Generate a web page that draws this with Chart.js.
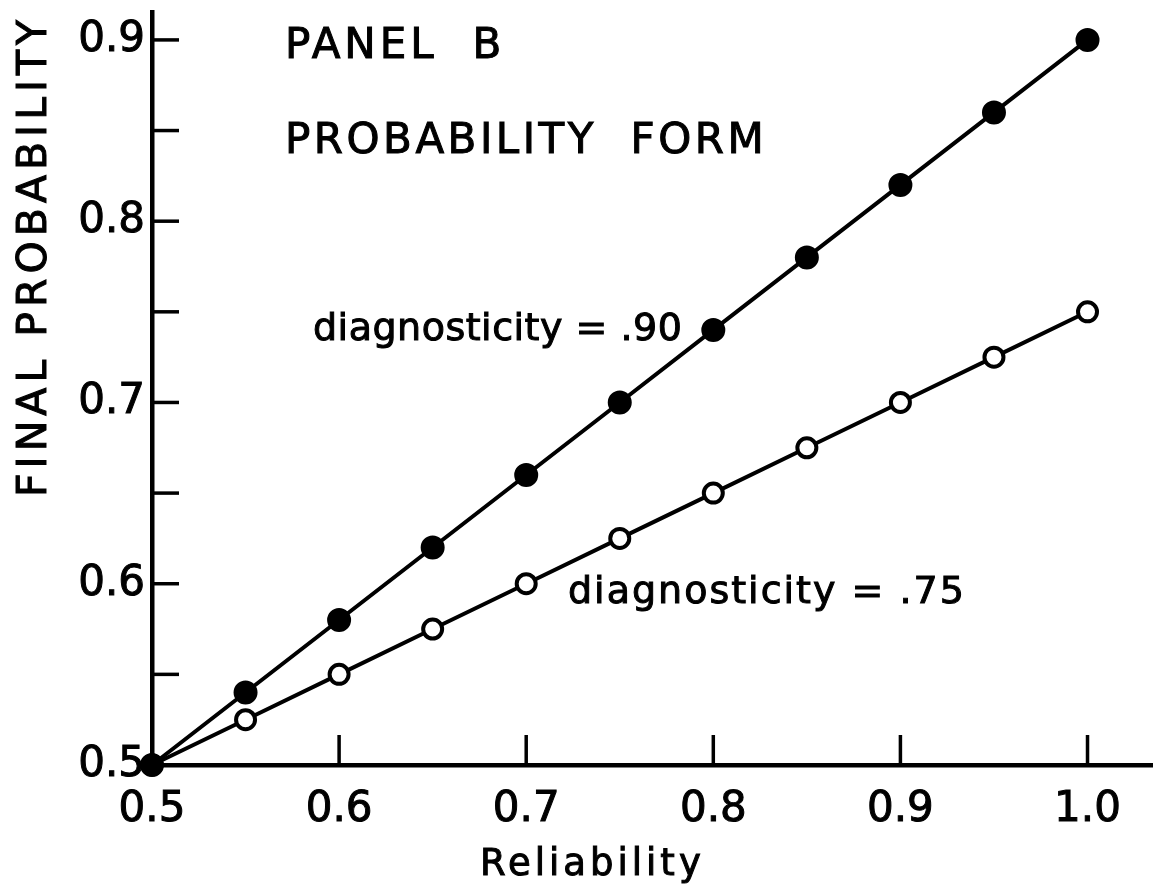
<!DOCTYPE html>
<html>
<head>
<meta charset="utf-8">
<script src="https://cdn.jsdelivr.net/npm/chart.js@4.4.1/dist/chart.umd.min.js"></script>
<style>
    html, body { margin: 0; padding: 0; background: white; }
    #wrap { width: 1153px; height: 889px; }
</style>
</head>
<body>
<div id="wrap"><canvas id="panel-b"></canvas></div>
<script>
// reliability values on the x axis
const reliability = [0.5, 0.55, 0.6, 0.65, 0.7, 0.75, 0.8, 0.85, 0.9, 0.95, 1.0];
// final probability, diagnosticity = .90 (filled dots)
const diag90 = [0.5, 0.54, 0.58, 0.62, 0.66, 0.70, 0.74, 0.78, 0.82, 0.86, 0.90];
// final probability, diagnosticity = .75 (open dots)
const diag75 = [0.5, 0.525, 0.55, 0.575, 0.60, 0.625, 0.65, 0.675, 0.70, 0.725, 0.75];

const FONT = "'DejaVu Sans', sans-serif";

function toPoints(ys) {
    return reliability.map((x, i) => ({ x: x, y: ys[i] }));
}

// inward tick marks, like the hand-drawn axes
const innerTicks = {
    id: "innerTicks",
    beforeDatasetsDraw(chart) {
        const { ctx, scales: { x, y }, chartArea } = chart;
        ctx.save();
        ctx.strokeStyle = "black";
        ctx.lineWidth = 3.5;
        ctx.lineCap = "butt";
        y.ticks.forEach((t) => {
            const py = y.getPixelForValue(t.value);
            ctx.beginPath();
            ctx.moveTo(chartArea.left, py);
            ctx.lineTo(chartArea.left + 27, py);
            ctx.stroke();
        });
        x.ticks.forEach((t) => {
            if (Math.abs(t.value - 0.5) < 1e-6) return;
            const px = x.getPixelForValue(t.value);
            ctx.beginPath();
            ctx.moveTo(px, chartArea.bottom);
            ctx.lineTo(px, chartArea.bottom - 30);
            ctx.stroke();
        });
        ctx.restore();
    },
};

// axis titles and panel text
const labels = {
    id: "labels",
    afterDraw(chart) {
        const { ctx } = chart;
        const put = (text, x, y, size, spacing, angle) => {
            ctx.save();
            ctx.translate(x, y);
            if (angle) ctx.rotate(angle);
            ctx.font = `${size}px ${FONT}`;
            ctx.letterSpacing = `${spacing}px`;
            ctx.fillStyle = "black";
            ctx.strokeStyle = "black";
            ctx.lineWidth = 1;
            ctx.textBaseline = "alphabetic";
            ctx.fillText(text, 0, 0);
            ctx.strokeText(text, 0, 0);
            ctx.restore();
        };
        put("PANEL  B", 285, 58, 42, 4);
        put("PROBABILITY  FORM", 285, 153, 42, 3.5);
        put("diagnosticity = .90", 313, 340, 38, 0.5);
        put("diagnosticity = .75", 568, 603, 38, 2);
        put("Reliability", 480, 875, 37, 4);
        put("FINAL PROBABILITY", 46, 497, 41, 5, -Math.PI / 2);
    },
};

// keep the plot area fixed: no extra room for edge labels
function noPad(s) {
    s.paddingTop = 0;
    s.paddingBottom = 0;
    s.paddingLeft = 0;
    s.paddingRight = 0;
}

const tickFont = { family: FONT, size: 42 };

const ctx = document.getElementById("panel-b").getContext("2d");
const chart = new Chart(ctx, {
    type: "scatter",
    data: {
        datasets: [
            {
                label: "diagnosticity = .90",
                data: toPoints(diag90),
                showLine: true,
                borderColor: "black",
                borderWidth: 4,
                pointRadius: 11,
                pointBackgroundColor: "black",
                pointBorderColor: "black",
                pointBorderWidth: 2,
                clip: false,
            },
            {
                label: "diagnosticity = .75",
                data: toPoints(diag75),
                showLine: true,
                borderColor: "black",
                borderWidth: 4,
                pointRadius: 9.5,
                pointBackgroundColor: "white",
                pointBorderColor: "black",
                pointBorderWidth: 4,
                clip: false,
            },
        ],
    },
    options: {
        responsive: true,
        maintainAspectRatio: false,
        animation: false,
        layout: {
            autoPadding: false,
            padding: { top: 12, right: 0, left: 0, bottom: 0 },
        },
        scales: {
            x: {
                type: "linear",
                min: 0.5,
                max: 1.035,
                afterFit: (s) => { s.height = 124; noPad(s); },
                grid: { display: false, drawTicks: false },
                border: { display: true, color: "black", width: 4.5 },
                ticks: {
                    stepSize: 0.1,
                    includeBounds: false,
                    autoSkip: false,
                    maxRotation: 0,
                    padding: 20,
                    color: "black",
                    textStrokeColor: "black",
                    textStrokeWidth: 1,
                    font: tickFont,
                    callback: (v) => v.toFixed(1),
                },
            },
            y: {
                type: "linear",
                min: 0.5,
                max: 0.9154,
                afterFit: (s) => { s.width = 152; noPad(s); },
                grid: { display: false, drawTicks: false },
                border: { display: true, color: "black", width: 4.5 },
                ticks: {
                    stepSize: 0.05,
                    includeBounds: false,
                    autoSkip: false,
                    padding: 7,
                    color: "black",
                    textStrokeColor: "black",
                    textStrokeWidth: 1,
                    font: tickFont,
                    callback: (v) => (Math.round(v * 100) % 10 === 0 ? v.toFixed(1) : ""),
                },
            },
        },
        plugins: {
            legend: { display: false },
            tooltip: { enabled: false },
        },
    },
    plugins: [innerTicks, labels],
});
</script>
</body>
</html>
